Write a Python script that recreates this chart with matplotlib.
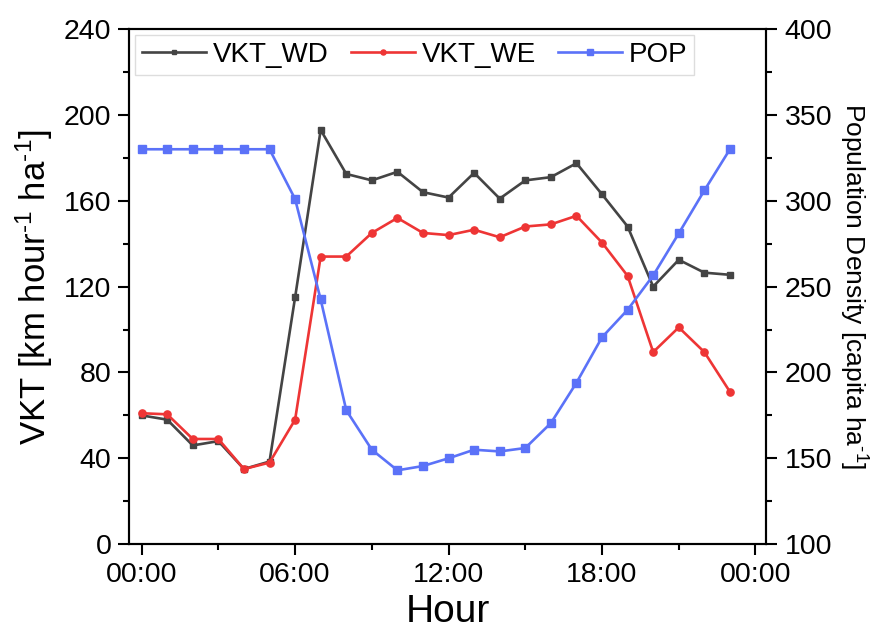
import matplotlib
matplotlib.use("Agg")
import matplotlib.pyplot as plt
from matplotlib.ticker import MultipleLocator

plt.rcParams['font.family'] = ['Liberation Sans', 'DejaVu Sans']
plt.rcParams['mathtext.default'] = 'regular'

hours = list(range(24))
vkt_wd = [60, 58, 46, 48, 35, 38.5, 115, 193, 172.5, 169.5, 173.5, 164, 161.5, 173,
          161, 169.5, 171, 177.5, 163, 148, 120, 132.5, 126.5, 125.5]
vkt_we = [61, 60.5, 49, 49, 35, 38, 58, 134, 134, 145, 152, 145, 144, 146.5,
          143, 148, 149, 153, 140.5, 125, 89.5, 101, 89.5, 71]
pop = [330, 330, 330, 330, 330, 330, 301, 242.5, 178, 155, 143, 145.5, 150, 155,
       154, 156, 170.5, 194, 220.5, 236.5, 256.5, 281, 306, 330]
xtick_pos = [0, 6, 12, 18, 24]
xtick_labels = ["00:00", "06:00", "12:00", "18:00", "00:00"]

c_wd = '#444444'
c_we = '#EE3535'
c_pop = '#5B72F8'

fig = plt.figure(figsize=(8.74, 6.32), dpi=100)
ax = fig.add_axes([0.148, 0.139, 0.729, 0.815])
ax2 = ax.twinx()

l1, = ax.plot(hours, vkt_wd, color=c_wd, lw=1.9, marker='s', ms=4.8, label='VKT_WD', zorder=3)
l2, = ax.plot(hours, vkt_we, color=c_we, lw=1.9, marker='o', ms=5.2, label='VKT_WE', zorder=3)
l3, = ax2.plot(hours, pop, color=c_pop, lw=1.9, marker='s', ms=5.6, label='POP', zorder=3)

ax.set_xlim(-0.48, 24.43)
ax.set_ylim(0, 240)
ax2.set_ylim(100, 400)

ax.set_xticks(xtick_pos)
ax.set_xticklabels(xtick_labels)
ax.xaxis.set_minor_locator(MultipleLocator(3))
ax.yaxis.set_major_locator(MultipleLocator(40))
ax.yaxis.set_minor_locator(MultipleLocator(20))
ax2.yaxis.set_major_locator(MultipleLocator(50))
ax2.yaxis.set_minor_locator(MultipleLocator(25))

for a in (ax, ax2):
    for s in a.spines.values():
        s.set_linewidth(1.5)
        s.set_color('black')
ax.tick_params(axis='both', which='major', direction='out', length=8, width=1.5, labelsize=20.5, pad=5)
ax.tick_params(axis='both', which='minor', direction='out', length=4.5, width=1.5)
ax.tick_params(axis='x', which='major', pad=5)
ax2.tick_params(axis='y', which='major', direction='out', length=8, width=1.5, labelsize=20.5, pad=5)
ax2.tick_params(axis='y', which='minor', direction='out', length=4.5, width=1.5)

ax.set_xlabel('Hour', fontsize=28, labelpad=4)
ax.set_ylabel('VKT [km hour$^{\u2010 1}$ ha$^{\u2010 1}$]', fontsize=25, labelpad=6)
ax2.set_ylabel('Population Density [capita ha$^{\u2010 1}$]', fontsize=19, rotation=270, labelpad=27)

ax2.set_zorder(ax.get_zorder() + 1)
ax2.patch.set_visible(False)

leg = ax2.legend(handles=[l1, l2, l3], loc='upper left', ncol=3, fontsize=20,
                 frameon=True, fancybox=False, edgecolor='#dddddd', framealpha=1,
                 borderaxespad=0.2, handlelength=2.3, handletextpad=0.25,
                 columnspacing=0.8, borderpad=0.25, markerscale=0.7)
leg.get_frame().set_linewidth(1.0)

fig.savefig('out.png', dpi=100)
